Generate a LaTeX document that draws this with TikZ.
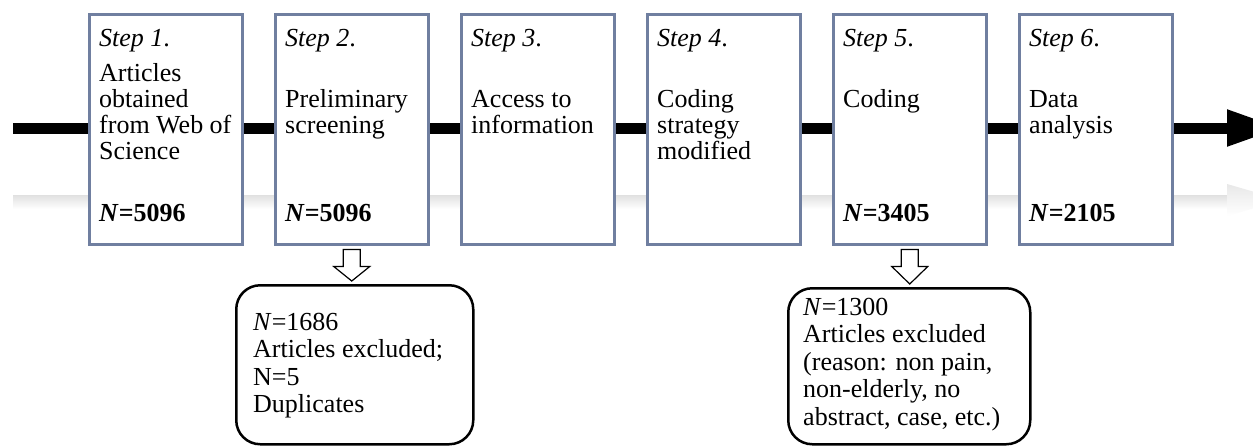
\documentclass[tikz,border=0pt]{standalone}
\usepackage{fontspec}
\setmainfont{Liberation Serif}
\usetikzlibrary{arrows.meta,calc}
\definecolor{stepframe}{RGB}{112,127,160}
\newcommand{\textlines}[1]{\begin{tabular}[t]{@{}l@{}}#1\end{tabular}}
\tikzset{
  stepbox/.style={draw=stepframe, line width=2.5pt, fill=white, anchor=north west,
    minimum width=153pt, minimum height=230pt, inner sep=0pt},
  steptext/.style={anchor=base west, inner sep=0pt, font=\fontsize{26}{26}\selectfont},
  exclbox/.style={draw=black, line width=2.5pt, rounded corners=24pt, anchor=north west, inner sep=0pt},
  excltext/.style={anchor=base west, inner sep=0pt, font=\fontsize{26}{27.6}\selectfont},
  openarrow/.style={draw=black, line width=1.2pt, fill=white, line join=miter},
}
\begin{document}
\begin{tikzpicture}[x=1pt,y=-1pt]
    \clip (0,0) rectangle (1253,445);
    \fill[white] (0,0) rectangle (1253,445);
    %draw reflection of the time line
    \shade[top color=black!12, bottom color=white] (13,195) rectangle (1227,209);
    \shade[top color=black!9, bottom color=white] (1227,184) -- (1282,200) -- (1227,216) -- cycle;
    %draw time line
    \coordinate (start) at (13,128);
    \coordinate (end) at (1282,128);
    \draw [line width=11pt, -{Triangle[length=55pt,width=34pt]}] (start) -- (end);
    %draw step boxes
    \foreach \i in {1,...,6}
        {%
            \node [stepbox] (s\i) at ({88+186*(\i-1)},13) {};
            \node [steptext] (l\i) at ($(s\i.north west)+(11,33)$) {\textit{Step \i}.};
        }
    %draw step texts
    \node [steptext] (b1) at ($(s1.north west)+(11,68)$) {\textlines{Articles\\obtained\\from Web of\\Science}};
    \foreach \i/\body in {2/{Preliminary\\screening},3/{Access to\\information},4/{Coding\\strategy\\modified},5/{Coding},6/{Data\\analysis}}
        {%
            \node [steptext] (b\i) at ($(s\i.north west)+(11,94)$) {\textlines{\body}};
        }
    %draw counts
    \foreach \i/\n in {1/5096,2/5096,5/3405,6/2105}
        {%
            \node [steptext] (n\i) at ($(s\i.north west)+(11,208)$) {\textbf{\textit{N}=\n}};
        }
    %draw excluded articles
    \node [exclbox, minimum width=237pt, minimum height=159pt] (x2) at (235,284) {};
    \node [excltext] (t2) at ($(x2.north west)+(18,46)$) {\textlines{\textit{N}=1686\\Articles excluded;\\N=5\\Duplicates}};
    \node [exclbox, minimum width=242pt, minimum height=156pt] (x5) at (787,287) {};
    \node [excltext] (t5) at ($(x5.north west)+(16,28)$) {\textlines{\textit{N}=1300\\Articles excluded\\(reason: non pain,\\non-elderly, no\\abstract, case, etc.)}};
    %draw open arrows
    \foreach \i in {2,5}
        {%
            \draw [openarrow] ($(s\i.south)+(-8.5,4)$) -- ($(s\i.south)+(8.5,4)$) -- ($(s\i.south)+(8.5,21)$)
                -- ($(s\i.south)+(18,21)$) -- ($(s\i.south |- x\i.north)+(0,-3)$) -- ($(s\i.south)+(-18,21)$)
                -- ($(s\i.south)+(-8.5,21)$) -- cycle;
        }
\end{tikzpicture}
\end{document}
